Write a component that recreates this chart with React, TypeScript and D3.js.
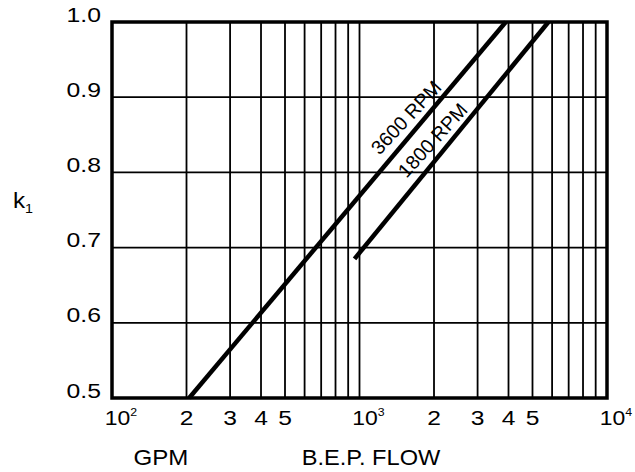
import React from 'react';
import * as d3 from 'd3';

// flow ticks (GPM) on the log axis, k1 ticks on the linear axis
const flowGrid = [200, 300, 400, 500, 600, 700, 800, 900, 1000, 2000, 3000, 4000, 5000, 6000, 7000, 8000, 9000];
const flowMinorLabels = [200, 300, 400, 500, 2000, 3000, 4000, 5000];
const flowDecades = [100, 1000, 10000];
const k1Ticks = [0.5, 0.6, 0.7, 0.8, 0.9, 1.0];

// curves: [flow, k1]
const rpm3600 = [[205, 0.5], [3900, 1.0]];
const rpm1800 = [[955, 0.685], [5800, 1.0]];
const curveLabels = [
  { text: '3600 RPM', data: rpm3600, k: 0.86 },
  { text: '1800 RPM', data: rpm1800, k: 0.83 },
];

const W = 635;
const H = 472;
const margin = { top: 22, right: 28, bottom: 74, left: 112 };
const font = 'Liberation Sans, Arial, Helvetica, sans-serif';

export default function App() {
  const x = d3.scaleLog().domain([100, 10000]).range([margin.left, W - margin.right]);
  const y = d3.scaleLinear().domain([0.5, 1.0]).range([H - margin.bottom, margin.top]);

  const line = d3
    .line<number[]>()
    .x((d) => x(d[0]))
    .y((d) => y(d[1]));

  const x0 = x.range()[0];
  const x1 = x.range()[1];
  const y0 = y.range()[0];
  const y1 = y.range()[1];

  // the scan is a bit wide, so text gets stretched sideways
  const T = (tx: number, ty: number, sx = 1.15) => `translate(${tx},${ty}) scale(${sx},1)`;

  return (
    <svg width={W} height={H} style={{ position: 'absolute', left: 0, top: 0, background: '#fff' }}>
      <rect width={W} height={H} fill='#fff' />

      {/* vertical grid */}
      {flowGrid.map((f) => (
        <line key={'v' + f} x1={x(f)} x2={x(f)} y1={y1} y2={y0} stroke='#000' strokeWidth={1.8} />
      ))}
      {/* horizontal grid */}
      {k1Ticks.slice(1, -1).map((k) => (
        <line key={'h' + k} x1={x0} x2={x1} y1={y(k)} y2={y(k)} stroke='#000' strokeWidth={1.8} />
      ))}

      {/* curves */}
      {[rpm3600, rpm1800].map((d, i) => (
        <path key={i} d={line(d as any) || ''} fill='none' stroke='#000' strokeWidth={4.5} />
      ))}

      {/* frame */}
      <rect x={x0} y={y1} width={x1 - x0} height={y0 - y1} fill='none' stroke='#000' strokeWidth={3.5} />

      {/* curve labels */}
      {curveLabels.map((c) => {
        const [a, b] = c.data;
        const t = (c.k - a[1]) / (b[1] - a[1]);
        const la = Math.log10(a[0]);
        const lb = Math.log10(b[0]);
        const px = x(Math.pow(10, la + t * (lb - la)));
        const py = y(c.k);
        const dx = x(b[0]) - x(a[0]);
        const dy = y(b[1]) - y(a[1]);
        const len = Math.hypot(dx, dy);
        const nx = dy / len;
        const ny = -dx / len;
        const off = 8;
        const ang = (Math.atan2(dy, dx) * 180) / Math.PI + 3;
        return (
          <text
            key={c.text}
            transform={`translate(${px + nx * off},${py + ny * off}) rotate(${ang})`}
            textAnchor='middle'
            fontFamily={font}
            fontSize={19.5}
            fill='#000'
          >
            {c.text}
          </text>
        );
      })}

      {/* y tick labels */}
      {k1Ticks.map((k) => (
        <text key={'yl' + k} transform={T(101, y(k) - 0.5, 1.27)} textAnchor='end' fontFamily={font} fontSize={19.5} fill='#000'>
          {k.toFixed(1)}
        </text>
      ))}

      {/* x tick labels */}
      {flowMinorLabels.map((f) => (
        <text key={'xl' + f} transform={T(x(f), 425, 1.2)} textAnchor='middle' fontFamily={font} fontSize={20.5} fill='#000'>
          {String(f).charAt(0)}
        </text>
      ))}
      {flowDecades.map((f) => (
        <text key={'xd' + f} transform={T(x(f) + 9, 425, 1.12)} textAnchor='middle' fontFamily={font} fontSize={20.5} fill='#000'>
          10
          <tspan fontSize={11} dy={-9}>
            {Math.round(Math.log10(f))}
          </tspan>
        </text>
      ))}

      {/* axis titles */}
      <text transform={T(13, 208, 1.1)} fontFamily={font} fontSize={22} fill='#000'>
        k
        <tspan fontSize={13} dy={5}>
          1
        </tspan>
      </text>
      <text transform={T(161, 465, 1.07)} textAnchor='middle' fontFamily={font} fontSize={22.5} fill='#000'>
        GPM
      </text>
      <text transform={T(371, 465, 1.05)} textAnchor='middle' fontFamily={font} fontSize={22.5} fill='#000'>
        B.E.P. FLOW
      </text>
    </svg>
  );
}
